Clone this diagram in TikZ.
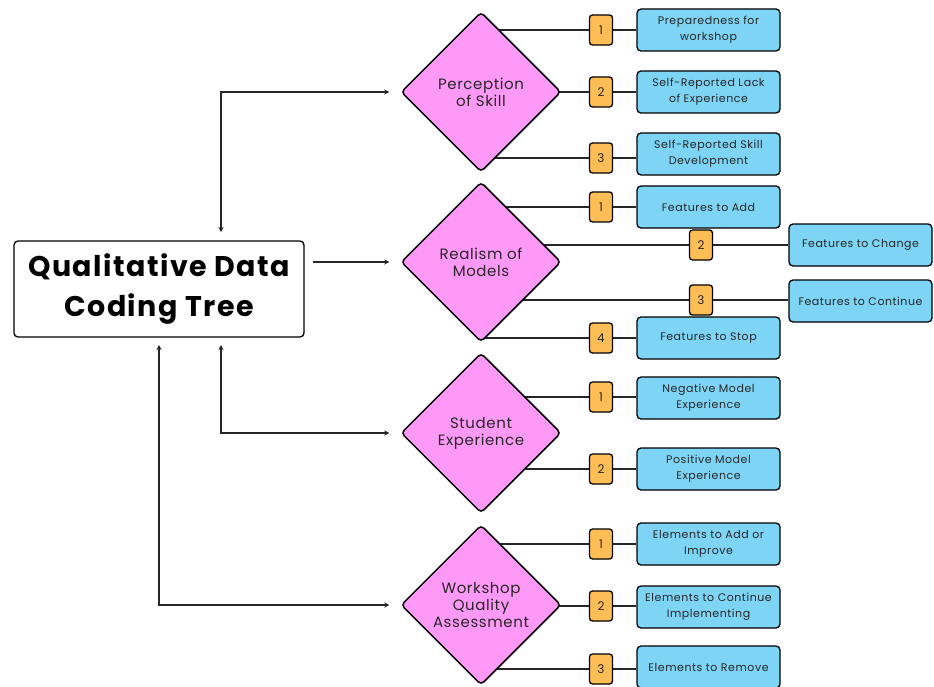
\documentclass[tikz,border=0pt]{standalone}
\usepackage{fontspec}
\setmainfont{Poppins}
\usetikzlibrary{shapes.geometric,arrows.meta,backgrounds}
\definecolor{pinkc}{HTML}{FF99F8}
\definecolor{bluec}{HTML}{7DD4F5}
\definecolor{orangec}{HTML}{FFBE55}
\definecolor{txtc}{HTML}{262626}
\newcommand{\myspace}[1]{\addfontfeature{LetterSpace=#1}}
\begin{document}
\begin{tikzpicture}[x=1pt,y=-1pt,
  diam/.style={diamond,draw=black,line width=1.5pt,fill=pinkc,minimum width=160pt,minimum height=160pt,
    inner sep=0pt,rounded corners=4pt,align=center,text=txtc,font=\fontsize{15}{17}\selectfont\myspace{4}},
  badge/.style={rectangle,draw=black,line width=1.3pt,fill=orangec,rounded corners=3pt,
    minimum width=23pt,minimum height=30pt,inner sep=0pt,font=\fontsize{12}{14}\selectfont,text=txtc},
  leaf/.style={rectangle,draw=black,line width=1.3pt,fill=bluec,rounded corners=4pt,
    minimum width=143pt,minimum height=42pt,inner sep=1pt,align=center,text=txtc,
    font=\fontsize{11}{16}\selectfont\myspace{5}},
  link/.style={draw=black!85,line width=1.3pt},
  arr/.style={draw=black!85,line width=1.3pt,{Stealth[length=5pt,width=5pt]}-{Stealth[length=5pt,width=5pt]}},
  arrone/.style={draw=black!85,line width=1.3pt,-{Stealth[length=5pt,width=5pt]}}
]
\useasboundingbox (0,0) rectangle (934,687);

% root
\node[draw=black,line width=1.3pt,rounded corners=4pt,minimum width=290pt,minimum height=96pt,
  align=center,font=\fontsize{28.5}{40}\selectfont\bfseries\myspace{5}] (root) at (159,289) {Qualitative Data\\Coding Tree};

% diamonds
\node[diam] (d1) at (481,92) {Perception\\of Skill};
\node[diam] (d2) at (481,262) {Realism of\\Models};
\node[diam] (d3) at (481,433) {Student\\Experience};
\node[diam] (d4) at (481,605) {Workshop\\Quality\\Assessment};

% badges
\node[badge] (b11) at (601,30) {1};
\node[badge] (b12) at (601,92) {2};
\node[badge] (b13) at (601,158) {3};
\node[badge] (b21) at (601,207) {1};
\node[badge] (b22) at (701,245) {2};
\node[badge] (b23) at (701,300) {3};
\node[badge] (b24) at (601,338) {4};
\node[badge] (b31) at (601,397) {1};
\node[badge] (b32) at (601,469) {2};
\node[badge] (b41) at (601,544) {1};
\node[badge] (b42) at (601,606) {2};
\node[badge] (b43) at (601,669) {3};

% leaves
\node[leaf] (l11) at (708.5,30) {Preparedness for\\workshop};
\node[leaf] (l12) at (708.5,92) {Self-Reported Lack\\of Experience};
\node[leaf] (l13) at (708.5,154) {Self-Reported Skill\\Development};
\node[leaf] (l21) at (708.5,207) {Features to Add};
\node[leaf] (l22) at (860.5,245) {Features to Change};
\node[leaf] (l23) at (860.5,301) {Features to Continue};
\node[leaf] (l24) at (708.5,338) {Features to Stop};
\node[leaf] (l31) at (708.5,398) {Negative Model\\Experience};
\node[leaf] (l32) at (708.5,469) {Positive Model\\Experience};
\node[leaf] (l41) at (708.5,544) {Elements to Add or\\Improve};
\node[leaf] (l42) at (708.5,607) {Elements to Continue\\Implementing};
\node[leaf] (l43) at (708.5,667) {Elements to Remove};

% diamond-to-badge lines behind
\begin{scope}[on background layer]
\fill[white] (0,0) rectangle (934,687);
\foreach \b/\d in {b11/d1,b12/d1,b13/d1,b21/d2,b22/d2,b23/d2,b24/d2,b31/d3,b32/d3,b41/d4,b42/d4,b43/d4}{
  \draw[link] (\b.west) -- (\b.west -| \d.center);
}
\end{scope}

% badge-to-leaf lines
\foreach \b/\l in {b11/l11,b12/l12,b13/l13,b21/l21,b22/l22,b23/l23,b24/l24,b31/l31,b32/l32,b41/l41,b42/l42,b43/l43}{
  \draw[link] (\b.east) -- (\b.east -| \l.west);
}

% root connectors
\coordinate (ta) at (221,232);
\coordinate (sa) at (221,345);
\coordinate (wa) at (159,345);
\draw[arr,shorten >=11pt] (ta) |- (d1.west);
\draw[arrone,shorten <=8pt,shorten >=11pt] (root.east |- d2.west) -- (d2.west);
\draw[arr,shorten >=11pt] (sa) |- (d3.west);
\draw[arr,shorten >=11pt] (wa) |- (d4.west);
\end{tikzpicture}
\end{document}
